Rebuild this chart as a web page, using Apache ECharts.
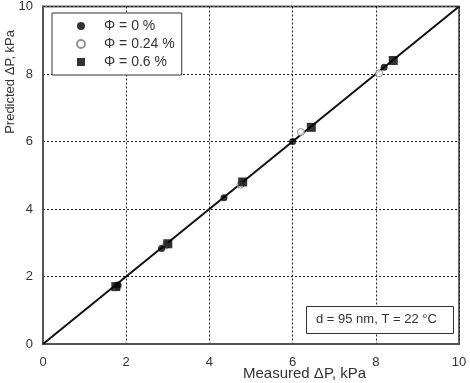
<!DOCTYPE html>
<html>
<head>
<meta charset="utf-8">
<script src="https://cdn.jsdelivr.net/npm/echarts@6/dist/echarts.min.js"></script>
<style>
  html, body { margin: 0; padding: 0; background: #fff; }
  #chart { width: 470px; height: 383px; }
</style>
</head>
<body>
<div id="chart"></div>
<script>
// measured / predicted pressure drop, kPa
const phi0 = [[1.8, 1.75], [2.85, 2.83], [4.35, 4.33], [6.0, 6.0], [8.2, 8.2]];
const phi024 = [[1.8, 1.72], [2.95, 2.92], [4.75, 4.72], [6.2, 6.28], [8.08, 8.02]];
const phi06 = [[1.75, 1.7], [3.0, 2.97], [4.8, 4.8], [6.45, 6.42], [8.42, 8.4]];
const parityLine = [[0, 0], [10, 10]];
const seriesNames = ['Φ = 0 %', 'Φ = 0.24 %', 'Φ = 0.6 %'];

const chart = echarts.init(document.getElementById('chart'));
const font = 'Liberation Sans, Arial, sans-serif';

const axisCommon = {
  min: 0, max: 10, interval: 2,
  axisLine: { show: true, lineStyle: { color: '#555', width: 2 } },
  axisTick: { show: false },
  splitLine: { show: true, lineStyle: { color: '#222', type: [2, 2], width: 1 } },
  axisLabel: { color: '#333', fontSize: 13, fontFamily: font }
};

chart.setOption({
  animation: false,
  grid: { left: 43, right: 11, top: 6, bottom: 39, show: true, borderColor: '#666', borderWidth: 2 },
  xAxis: Object.assign({ type: 'value' }, axisCommon, {
    axisLabel: Object.assign({}, axisCommon.axisLabel, { margin: 12 })
  }),
  yAxis: Object.assign({ type: 'value' }, axisCommon, {
    axisLabel: Object.assign({}, axisCommon.axisLabel, { margin: 10 })
  }),
  legend: {
    orient: 'vertical',
    left: 52, top: 13,
    data: seriesNames,
    borderColor: '#333', borderWidth: 1,
    padding: [6, 7, 6, 24],
    itemGap: 4,
    itemWidth: 8, itemHeight: 8,
    backgroundColor: '#fff',
    textStyle: { color: '#333', fontSize: 14, fontFamily: font, padding: [0, 0, 0, 14] }
  },
  graphic: [
    {
      type: 'text', left: 4, top: 30, rotation: Math.PI / 2,
      style: { text: 'Predicted ΔP, kPa', fill: '#333', font: '13px ' + font }
    },
    {
      type: 'text', left: 243, top: 366,
      style: { text: 'Measured ΔP, kPa', fill: '#333', font: '15px ' + font }
    },
    {
      type: 'rect', left: 306, top: 306, z: 10,
      shape: { width: 147, height: 27 },
      style: { fill: '#fff', stroke: '#333', lineWidth: 1 }
    },
    {
      type: 'text', left: 316, top: 313, z: 11,
      style: { text: 'd = 95 nm, T = 22 °C', fill: '#333', font: '13px ' + font }
    }
  ],
  series: [
    {
      type: 'line', data: parityLine, symbol: 'none', silent: true,
      lineStyle: { color: '#111', width: 2 }, z: 1
    },
    {
      name: seriesNames[0], type: 'scatter', data: phi0, symbol: 'circle', symbolSize: 7,
      itemStyle: { color: '#000' }, z: 3
    },
    {
      name: seriesNames[1], type: 'scatter', data: phi024, symbol: 'circle', symbolSize: 7,
      itemStyle: { color: '#fff', borderColor: '#777', borderWidth: 1 }, z: 2
    },
    {
      name: seriesNames[2], type: 'scatter', data: phi06, symbol: 'rect', symbolSize: 9,
      itemStyle: { color: '#000' }, z: 4
    }
  ]
});
</script>
</body>
</html>
